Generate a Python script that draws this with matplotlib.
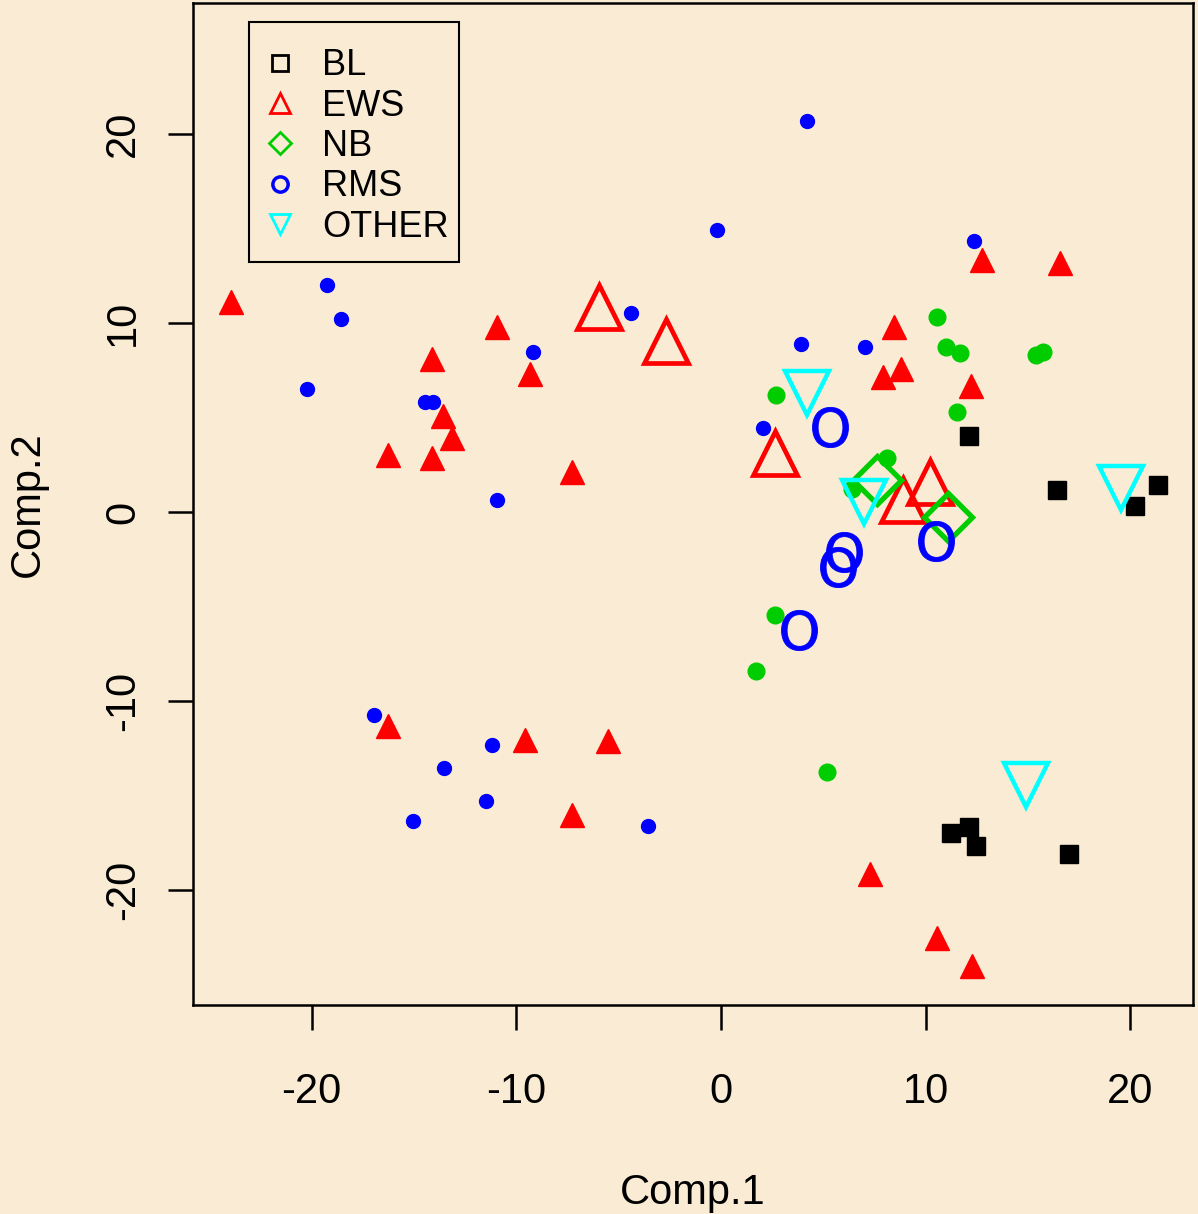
import matplotlib
matplotlib.use('Agg')
import matplotlib.pyplot as plt
from matplotlib.lines import Line2D
from matplotlib.patches import Rectangle

plt.rcParams['font.family'] = ['Liberation Sans', 'DejaVu Sans']
plt.rcParams['axes.unicode_minus'] = False

# training samples
bl_x = [12.12, 16.41, 20.22, 21.35, 11.24, 12.12, 12.46, 17.00]
bl_y = [4.02, 1.16, 0.32, 1.43, -16.98, -16.67, -17.67, -18.10]

ews_x = [-23.94, -16.27, -14.12, -13.58, -13.14, -14.12, -10.94, -9.33, -7.28,
         -16.27, -9.57, -5.52, -7.28, 12.75, 16.56, 8.45, 8.79, 7.91, 12.21,
         7.28, 10.55, 12.26]
ews_y = [11.11, 3.02, 8.10, 5.08, 3.92, 2.86, 9.79, 7.30, 2.12,
         -11.32, -12.06, -12.12, -16.03, 13.33, 13.17, 9.79, 7.57, 7.14, 6.67,
         -19.15, -22.54, -24.02]

nb_x = [10.55, 10.99, 11.68, 15.39, 15.73, 2.69, 11.53, 8.11, 6.40, 2.64, 1.71, 5.18]
nb_y = [10.32, 8.73, 8.41, 8.31, 8.47, 6.19, 5.29, 2.86, 1.22, -5.45, -8.41, -13.76]

rms_x = [4.20, -0.20, 12.36, -19.25, -18.56, -4.40, -9.18, 3.91, 7.03, -20.22,
         -14.46, -14.07, 2.05, -10.94, -16.95, -11.19, -13.53, -11.48, -15.05, -3.57]
rms_y = [20.69, 14.92, 14.34, 12.01, 10.21, 10.53, 8.47, 8.89, 8.73, 6.51,
         5.82, 5.82, 4.44, 0.63, -10.74, -12.33, -13.54, -15.29, -16.35, -16.61]

# new (test) samples drawn with big open symbols
ews_new_x = [-5.96, -2.69, 2.64, 10.21, 8.89]
ews_new_y = [10.85, 9.05, 3.12, 1.59, 0.63]

nb_new_x = [7.62, 11.09]
nb_new_y = [1.69, -0.26]

rms_new_x = [5.32, 6.01, 5.72, 10.50, 3.81]
rms_new_y = [4.50, -2.12, -2.91, -1.53, -6.24]

other_x = [4.20, 6.99, 19.54, 14.90]
other_y = [6.30, 0.53, 1.27, -14.44]

labels = ['BL', 'EWS', 'NB', 'RMS', 'OTHER']

bg = '#FAECD4'
red = '#FF0000'
green = '#00CD00'
blue = '#0000FF'
cyan = '#00FFFF'

fig = plt.figure(figsize=(11.98, 12.14), dpi=100)
fig.patch.set_facecolor(bg)
ax = fig.add_axes([0.1611, 0.1722, 0.8347, 0.8253])
ax.set_facecolor(bg)

# small filled symbols
ax.plot(bl_x, bl_y, ls='', marker='s', ms=13, color='black')
ax.plot(ews_x, ews_y, ls='', marker='^', ms=17, color=red)
ax.plot(nb_x, nb_y, ls='', marker='o', ms=12, color=green)
ax.plot(rms_x, rms_y, ls='', marker='o', ms=10, color=blue)

# big open symbols
ax.plot(ews_new_x, ews_new_y, ls='', marker='^', ms=31, mfc='none', mec=red, mew=3.4)
ax.plot(nb_new_x, nb_new_y, ls='', marker='D', ms=24, mfc='none', mec=green, mew=3.8)
ax.plot(other_x, other_y, ls='', marker='v', ms=31, mfc='none', mec=cyan, mew=3.2)
ax.plot(rms_new_x, rms_new_y, ls='', marker='$\\mathsf{O}$', ms=29, color=blue, mew=0.6)

ax.set_xlim(-25.79, 23.06)
ax.set_ylim(-26.08, 26.93)
ax.set_xticks([-20, -10, 0, 10, 20])
ax.set_yticks([-20, -10, 0, 10, 20])
ax.set_yticklabels(['-20', '-10', '0', '10', '20'], rotation=90, va='center')
ax.tick_params(direction='out', length=18, width=1.8, labelsize=30, pad=30)
ax.tick_params(axis='y', pad=18)
for s in ax.spines.values():
    s.set_linewidth(1.8)

ax.set_xlabel('Comp.1', fontsize=30, labelpad=44)
ax.set_ylabel('Comp.2', fontsize=30, labelpad=40)

# legend box drawn separately so its size matches the R one
ax.add_patch(Rectangle((0.056, 0.7415), 0.21, 0.2395, transform=ax.transAxes,
                       facecolor=bg, edgecolor='black', lw=1.5, zorder=5))
handles = [
    Line2D([], [], ls='', marker='s', ms=11, mfc='none', mec='black', mew=2),
    Line2D([], [], ls='', marker='^', ms=14, mfc='none', mec=red, mew=2),
    Line2D([], [], ls='', marker='D', ms=11, mfc='none', mec=green, mew=2),
    Line2D([], [], ls='', marker='o', ms=11, mfc='none', mec=blue, mew=2.5),
    Line2D([], [], ls='', marker='v', ms=14, mfc='none', mec=cyan, mew=2),
]
leg = ax.legend(handles, labels, loc='upper left', bbox_to_anchor=(0.056, 0.973),
                fontsize=26, frameon=False, borderpad=0.5,
                handlelength=0.72, handletextpad=0.8, labelspacing=0.15,
                borderaxespad=0)
leg.set_zorder(6)

fig.savefig('out.png', dpi=100, facecolor=bg)
